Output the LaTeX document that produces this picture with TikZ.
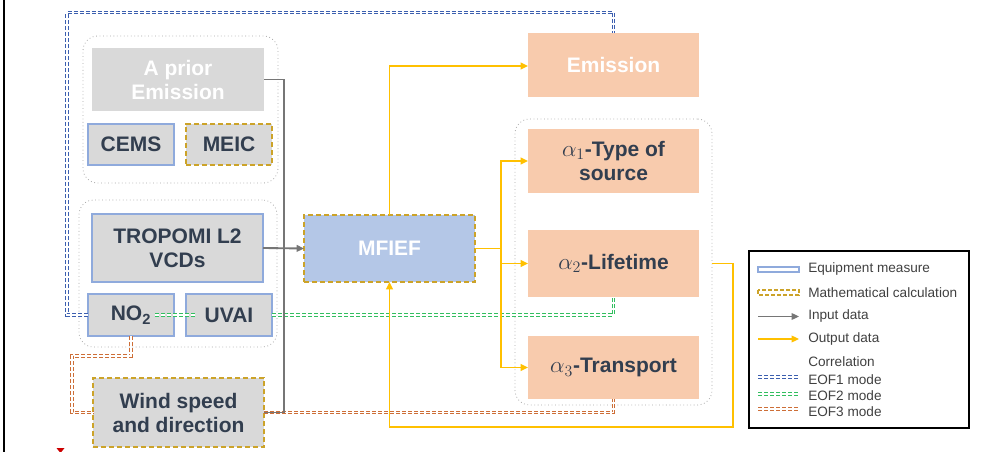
\documentclass[tikz,border=0pt]{standalone}
\usepackage{fontspec}
\setmainfont{Liberation Sans}
\usetikzlibrary{arrows.meta}
\definecolor{gfill}{HTML}{D9D9D9}
\definecolor{eqblue}{HTML}{8FAADC}
\definecolor{gold}{RGB}{204,163,41}
\definecolor{mfill}{HTML}{B4C7E7}
\definecolor{peach}{HTML}{F8CBAD}
\definecolor{outy}{HTML}{FFC000}
\definecolor{ingray}{HTML}{767676}
\definecolor{txt}{RGB}{50,62,79}
\definecolor{lgtxt}{HTML}{404040}
\definecolor{eofa}{RGB}{60,95,175}
\definecolor{eofb}{RGB}{50,190,95}
\definecolor{eofc}{RGB}{205,110,55}
\newcommand{\boxfont}{\bfseries\fontsize{15.75}{18}\selectfont}
\newcommand{\lgfont}{\fontsize{10.2}{12}\selectfont}
\newcommand{\alp}[1]{{\fontsize{18}{18}\selectfont$\alpha_{#1}$}}
\tikzset{
  sz/.style 2 args={minimum width=#1*0.75pt, minimum height=#2*0.75pt},
  box/.style={inner sep=0pt, outer sep=0pt, align=center, font=\boxfont, text=txt},
  gbox/.style={box, fill=gfill},
  equip/.style={gbox, draw=eqblue, line width=1.5pt},
  mathbox/.style={draw=gold, line width=1.5pt, dash pattern=on 4pt off 2pt},
  outbox/.style={box, fill=peach},
  grp/.style={draw=gray!70, dotted, line width=0.6pt, rounded corners=11pt, inner sep=0pt},
  inline/.style={draw=ingray, line width=1.4pt},
  inarrow/.style={inline, -{Triangle[length=5.5pt,width=5pt]}},
  outline/.style={draw=outy, line width=1.4pt},
  outarrow/.style={outline, -{Triangle[length=5.5pt,width=5pt]}},
  eof/.style={line width=2.6pt, dash pattern=on 3pt off 1.5pt,
    postaction={draw=white, line width=0.9pt, dash pattern=on 3pt off 1.5pt}},
  eofone/.style={eof, draw=eofa},
  eoftwo/.style={eof, draw=eofb},
  eofthree/.style={eof, draw=eofc},
  lgtext/.style={anchor=west, inner sep=0pt, font=\lgfont, text=lgtxt},
}
\begin{document}
\begin{tikzpicture}[x=0.75pt,y=-0.75pt]
\useasboundingbox (0,0) rectangle (992,452);
% left edge line and marker
\draw[line width=1.5pt] (4.3,0) -- (4.3,452);
\fill[red!80!black] (56.5,448) -- (64.5,448) -- (60.5,453) -- cycle;

% groups
\node[grp, sz={195}{147}] (g1) at (180.5,109.5) {};
\node[grp, sz={198}{147}] (g2) at (178,273.5) {};
\node[grp, sz={197}{286}] (g3) at (613.5,262) {};

% input boxes
\node[gbox, text=white, sz={172}{63}] (aprior) at (178,79.5) {A prior\\Emission};
\node[equip, sz={86}{41}] (cems) at (131,144.5) {CEMS};
\node[gbox, mathbox, sz={86}{41}] (meic) at (229,144.5) {MEIC};
\node[equip, sz={171}{68}] (tropomi) at (177.5,248) {TROPOMI L2\\VCDs};
\node[equip, sz={86}{42}] (no2) at (131,315) {NO\textsubscript{2}};
\node[equip, sz={86}{42}] (uvai) at (229,315) {UVAI};
\node[gbox, mathbox, sz={171}{69}] (wind) at (178.5,412.5) {Wind speed\\and direction};

% MFIEF
\node[box, fill=mfill, mathbox, text=white, sz={171}{67}] (mfief) at (389.5,248.5) {MFIEF};

% outputs
\node[outbox, text=white, sz={171}{64}] (emis) at (613.5,65) {Emission};
\node[outbox, sz={171}{64}] (a1) at (613.5,161) {\alp{1}-Type of\\source};
\node[outbox, sz={171}{67}] (a2) at (613.5,263.5) {\alp{2}-Lifetime};
\node[outbox, sz={171}{63}] (a3) at (613.5,367.5) {\alp{3}-Transport};

% helper coordinates
\coordinate (jx) at (284,0);
\coordinate (bx) at (501,0);
\coordinate (fbx) at (733,0);
\coordinate (fby) at (0,427);
\coordinate (topy) at (0,66);
\coordinate (e1x) at (67,0);
\coordinate (e1y) at (0,12.7);
\coordinate (e3x) at (72,0);
\coordinate (e3y) at (0,356);
\coordinate (g2a) at (155,315);
\coordinate (g2b) at (197,315);

% correlation lines
\draw[eofone] (no2.west) -- (e1x |- no2.west) -- (e1x |- e1y) -- (emis.north |- e1y) -- (emis.north);
\draw[eoftwo] (g2a) -- (g2b);
\draw[eoftwo] (uvai.east) -- (a2.south |- uvai.east) -- (a2.south);
\draw[eofthree] (no2.south) -- (no2.south |- e3y) -- (e3x |- e3y) -- (e3x |- wind.west) -- (wind.west);
\draw[eofthree] (wind.east) -- (a3.south |- wind.east) -- (a3.south);

% input lines
\draw[inline] (aprior.east) -- (jx |- aprior.east) -- (jx |- wind.east) -- (wind.east);
\draw[inarrow] (tropomi.east) -- (mfief.west);

% output lines
\draw[outarrow] (mfief.north) -- (mfief.north |- topy) -- (emis.west |- topy);
\draw[outline] (mfief.east) -- (bx |- mfief.east);
\draw[outarrow] (bx |- mfief.east) -- (bx |- a1.west) -- (a1.west);
\draw[outarrow] (bx |- mfief.east) -- (bx |- a2.west) -- (a2.west);
\draw[outarrow] (bx |- mfief.east) -- (bx |- a3.west) -- (a3.west);
\draw[outarrow] (g3.east |- a2.east) -- (fbx |- a2.east) -- (fbx |- fby) -- (mfief.south |- fby) -- (mfief.south);

% legend
\node[draw=black, line width=0.8pt, inner sep=0pt, sz={220}{177}] (legend) at (859,339.5) {};
\draw[eqblue, line width=1.2pt] (758,267) rectangle (799,272);
\draw[gold, line width=1.2pt, dash pattern=on 3pt off 1.5pt] (758,290) rectangle (799,295);
\draw[inarrow, line width=0.9pt] (758,316.5) -- (799,316.5);
\draw[outarrow, line width=0.9pt] (758,339) -- (799,339);
\draw[eofone] (758,377) -- (799,377);
\draw[eoftwo] (758,394) -- (799,394);
\draw[eofthree] (758,409) -- (799,409);
\node[lgtext] (l1) at (808,268.5) {Equipment measure};
\node[lgtext] (l2) at (808,292.5) {Mathematical calculation};
\node[lgtext] (l3) at (808,315.5) {Input data};
\node[lgtext] (l4) at (808,339) {Output data};
\node[lgtext] (l5) at (808,362) {Correlation};
\node[lgtext] (l6) at (808,380) {EOF1 mode};
\node[lgtext] (l7) at (808,396) {EOF2 mode};
\node[lgtext] (l8) at (808,412) {EOF3 mode};
\end{tikzpicture}
\end{document}
